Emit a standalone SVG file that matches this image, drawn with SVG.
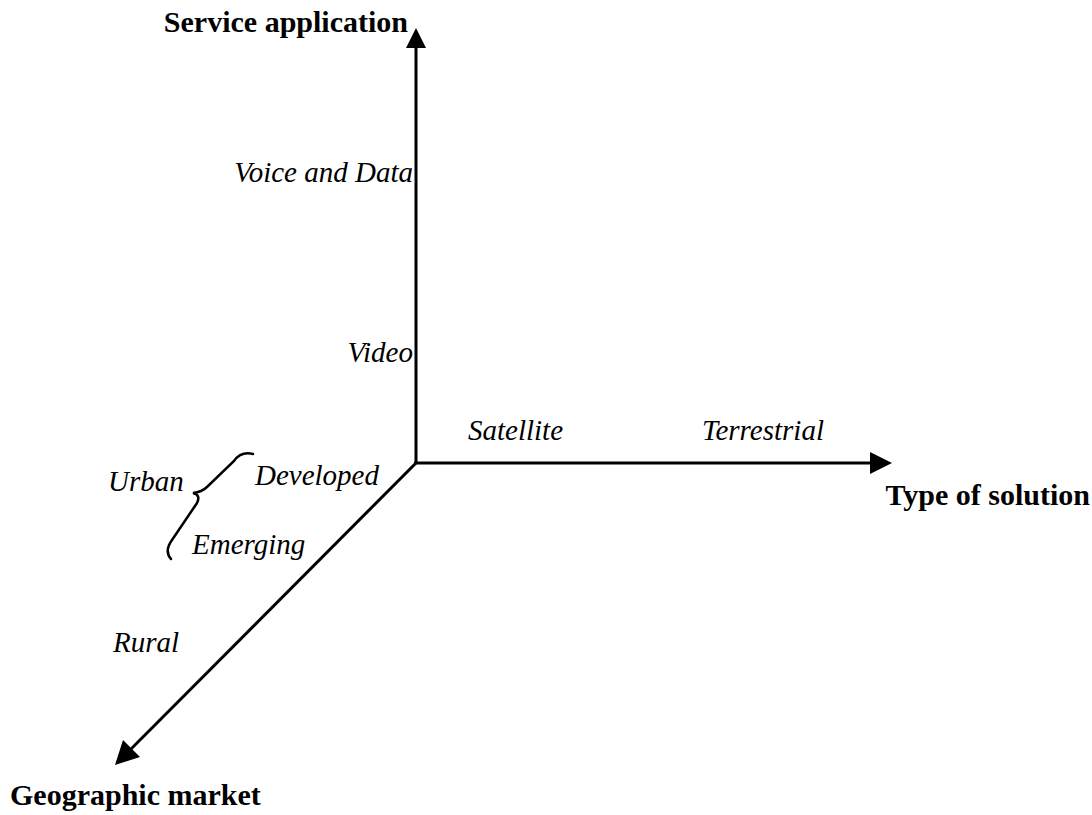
<svg xmlns="http://www.w3.org/2000/svg" width="1092" height="815" viewBox="0 0 1092 815">
<style>
.ax{stroke:#000;stroke-width:3;fill:none}
.hd{fill:#000}
.b{font-family:"Liberation Serif","Times New Roman",serif;font-weight:bold;font-size:30px;fill:#000}
.i{font-family:"Liberation Serif","Times New Roman",serif;font-style:italic;font-size:29px;fill:#000}
.br{stroke:#000;stroke-width:2.5;fill:none;stroke-linecap:round}
</style>
<rect width="1092" height="815" fill="#fff"/>
<g id="connectors">
<line class="ax" x1="416" y1="464" x2="416" y2="44"/>
<polygon class="hd" points="416,28 406,48 426,48"/>
<line class="ax" x1="414" y1="463" x2="874" y2="463"/>
<polygon class="hd" points="892,463 870,452 870,474"/>
<line class="ax" x1="417" y1="462" x2="128" y2="752"/>
<polygon class="hd" points="115,765 123,740 140,757"/>
</g>
<g id="axis-service"><text class="b" x="408" y="32" text-anchor="end">Service application</text></g>
<g id="axis-solution"><text class="b" x="1090" y="505" text-anchor="end">Type of solution</text></g>
<g id="axis-market"><text class="b" x="10" y="805">Geographic market</text></g>
<g id="label-voice"><text class="i" x="413" y="182" text-anchor="end">Voice and Data</text></g>
<g id="label-video"><text class="i" x="413" y="362" text-anchor="end">Video</text></g>
<g id="label-satellite"><text class="i" x="468" y="440">Satellite</text></g>
<g id="label-terrestrial"><text class="i" x="702" y="440">Terrestrial</text></g>
<g id="label-urban"><text class="i" x="108" y="491">Urban</text></g>
<g id="brace"><path class="br" d="M253 454 Q241 451 234 461 L207 487 Q202 492 193 493 Q201 495 197 503 L172 540 Q164 551 171 559"/></g>
<g id="label-developed"><text class="i" x="255" y="485">Developed</text></g>
<g id="label-emerging"><text class="i" x="192" y="554">Emerging</text></g>
<g id="label-rural"><text class="i" x="113" y="652">Rural</text></g>
</svg>
